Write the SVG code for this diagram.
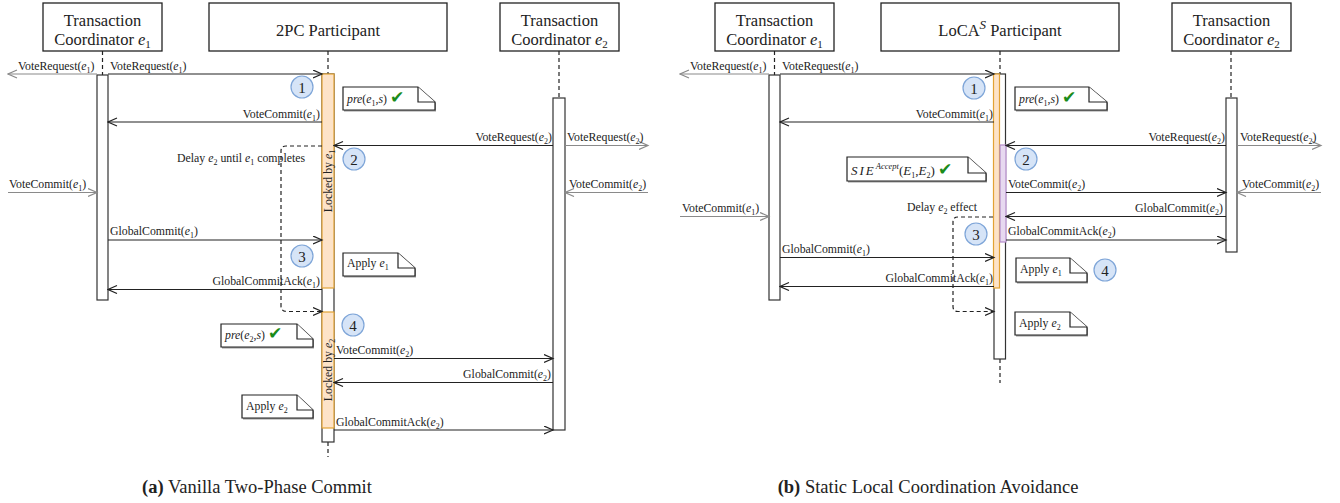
<svg xmlns="http://www.w3.org/2000/svg" width="1340" height="503" viewBox="0 0 1340 503">
<style>
text{font-family:"Liberation Serif","Times New Roman",serif;fill:#222}
.hd{font-size:16.5px}
.lbl{font-size:11.8px}
.i{font-style:italic}
.sub{font-size:8px}
.hsub{font-size:11px}
.box{fill:#fff;stroke:#222;stroke-width:1.3}
.life{stroke:#222;stroke-width:1.2;stroke-dasharray:4 3;fill:none}
.act{fill:#fff;stroke:#333;stroke-width:1.2}
.lock{fill:#fde3c8;stroke:#e2a234;stroke-width:1.2}
.sie{fill:#e7d9f0;stroke:#b38bc9;stroke-width:1.2}
.msg{stroke:#222;stroke-width:1.2;fill:none;marker-end:url(#ah)}
.ext{stroke:#8a8a8a;stroke-width:1.2;fill:none;marker-end:url(#ahg)}
.delay{stroke:#222;stroke-width:1.2;fill:none;stroke-dasharray:4 3;marker-end:url(#ah)}
.num circle{fill:#d6e4f7;stroke:#7ea5d8;stroke-width:1.2}
.num text{font-size:15px;text-anchor:middle}
.note path{fill:#fff;stroke:#222;stroke-width:1.2}
.note .sh{fill:#999;stroke:none}
.ck{font-family:"DejaVu Sans",sans-serif;fill:#1a8c1a;font-size:17px}
.cap{font-size:18.5px;text-anchor:middle}
</style>
<defs>
<marker id="ah" markerWidth="11" markerHeight="11" refX="9.5" refY="4.5" orient="auto" markerUnits="userSpaceOnUse"><path d="M0.5,0.5 L9.5,4.5 L0.5,8.5" fill="none" stroke="#222" stroke-width="1.2"/></marker>
<marker id="ahg" markerWidth="11" markerHeight="11" refX="9.5" refY="4.5" orient="auto" markerUnits="userSpaceOnUse"><path d="M0.5,0.5 L9.5,4.5 L0.5,8.5" fill="none" stroke="#8a8a8a" stroke-width="1.2"/></marker>
</defs>
<rect width="1340" height="503" fill="#fff"/>

<!-- ================= Panel (a) ================= -->
<g id="a-tc1">
<rect class="box" x="43" y="3" width="119" height="48"/>
<text class="hd" x="102.5" y="26" text-anchor="middle">Transaction</text>
<text class="hd" x="102.5" y="45" text-anchor="middle">Coordinator <tspan class="i">e</tspan><tspan class="hsub" dy="3">1</tspan></text>
<line class="life" x1="102.5" y1="51" x2="102.5" y2="75"/>
<rect class="act" x="97" y="75" width="11" height="225"/>
</g>
<g id="a-part">
<rect class="box" x="209" y="3" width="238" height="48"/>
<text class="hd" x="328" y="36" text-anchor="middle">2PC Participant</text>
<line class="life" x1="328" y1="51" x2="328" y2="74"/>
<line class="life" x1="328" y1="442" x2="328" y2="457"/>
<rect class="act" x="322" y="74" width="12" height="368"/>
<rect class="lock" x="322" y="74" width="12" height="214"/>
<rect class="lock" x="322" y="312" width="12" height="116"/>
<text class="lbl" transform="translate(331.5,181) rotate(-90)" text-anchor="middle">Locked by <tspan class="i">e</tspan><tspan class="sub" dy="3">1</tspan></text>
<text class="lbl" transform="translate(331.5,370) rotate(-90)" text-anchor="middle">Locked by <tspan class="i">e</tspan><tspan class="sub" dy="3">2</tspan></text>
</g>
<g id="a-tc2">
<rect class="box" x="500" y="3" width="119" height="48"/>
<text class="hd" x="559.5" y="26" text-anchor="middle">Transaction</text>
<text class="hd" x="559.5" y="45" text-anchor="middle">Coordinator <tspan class="i">e</tspan><tspan class="hsub" dy="3">2</tspan></text>
<line class="life" x1="559" y1="51" x2="559" y2="98"/>
<rect class="act" x="553" y="98" width="12" height="332"/>
</g>

<g id="a-notes">
<g class="note"><path class="sh" d="M344,88 H419 L436,103 V111.5 H344 Z"/><path d="M343,87 H418 L435,102 V110 H343 Z"/><path d="M418,87 V102 H435"/>
<text class="lbl" x="347" y="103"><tspan class="i">pre</tspan>(<tspan class="i">e</tspan><tspan class="sub" dy="3">1</tspan><tspan dy="-3">,</tspan><tspan class="i">s</tspan>) <tspan class="ck">✔</tspan></text></g>
<g class="note"><path class="sh" d="M344,254 H399 L416,269 V277.5 H344 Z"/><path d="M343,253 H398 L415,268 V276 H343 Z"/><path d="M398,253 V268 H415"/>
<text class="lbl" x="347" y="267">Apply <tspan class="i">e</tspan><tspan class="sub" dy="3">1</tspan></text></g>
<g class="note"><path class="sh" d="M222,325 H298 L314,340 V348.5 H222 Z"/><path d="M221,324 H297 L313,339 V347 H221 Z"/><path d="M297,324 V339 H313"/>
<text class="lbl" x="225" y="339"><tspan class="i">pre</tspan>(<tspan class="i">e</tspan><tspan class="sub" dy="3">2</tspan><tspan dy="-3">,</tspan><tspan class="i">s</tspan>) <tspan class="ck">✔</tspan></text></g>
<g class="note"><path class="sh" d="M243,396 H298 L314,411 V419.5 H243 Z"/><path d="M242,395 H297 L313,410 V418 H242 Z"/><path d="M297,395 V410 H313"/>
<text class="lbl" x="246" y="410">Apply <tspan class="i">e</tspan><tspan class="sub" dy="3">2</tspan></text></g>
</g>

<g id="a-steps">
<g class="num"><circle cx="302" cy="87" r="11"/><text x="302" y="92.5">1</text></g>
<g class="num"><circle cx="354" cy="159" r="11"/><text x="354" y="164.5">2</text></g>
<g class="num"><circle cx="302" cy="256" r="11"/><text x="302" y="261.5">3</text></g>
<g class="num"><circle cx="353" cy="325" r="11"/><text x="353" y="330.5">4</text></g>
</g>

<g id="a-connectors">
<line class="ext" x1="97" y1="74" x2="8" y2="74"/>
<line class="msg" x1="108" y1="74" x2="322" y2="74"/>
<line class="msg" x1="322" y1="122" x2="108" y2="122"/>
<line class="msg" x1="553" y1="145.5" x2="334" y2="145.5"/>
<line class="ext" x1="565" y1="145.5" x2="648" y2="145.5"/>
<line class="ext" x1="8" y1="192.5" x2="97" y2="192.5"/>
<line class="ext" x1="648" y1="192.5" x2="565" y2="192.5"/>
<line class="msg" x1="108" y1="240" x2="322" y2="240"/>
<line class="msg" x1="322" y1="289.5" x2="108" y2="289.5"/>
<line class="msg" x1="334" y1="358.5" x2="553" y2="358.5"/>
<line class="msg" x1="553" y1="382.5" x2="334" y2="382.5"/>
<line class="msg" x1="334" y1="430" x2="553" y2="430"/>
<path class="delay" d="M322,146 H286 Q281,146 281,151 V306 Q281,311.5 287,311.5 H322"/>
</g>

<g id="a-labels">
<text class="lbl" x="18" y="70">VoteRequest(<tspan class="i">e</tspan><tspan class="sub" dy="3">1</tspan><tspan dy="-3">)</tspan></text>
<text class="lbl" x="110" y="70">VoteRequest(<tspan class="i">e</tspan><tspan class="sub" dy="3">1</tspan><tspan dy="-3">)</tspan></text>
<text class="lbl" x="320" y="117.5" text-anchor="end">VoteCommit(<tspan class="i">e</tspan><tspan class="sub" dy="3">1</tspan><tspan dy="-3">)</tspan></text>
<text class="lbl" x="552" y="140.5" text-anchor="end">VoteRequest(<tspan class="i">e</tspan><tspan class="sub" dy="3">2</tspan><tspan dy="-3">)</tspan></text>
<text class="lbl" x="567" y="140.5">VoteRequest(<tspan class="i">e</tspan><tspan class="sub" dy="3">2</tspan><tspan dy="-3">)</tspan></text>
<text class="lbl" x="305" y="162" text-anchor="end">Delay <tspan class="i">e</tspan><tspan class="sub" dy="3">2</tspan><tspan dy="-3"> until </tspan><tspan class="i">e</tspan><tspan class="sub" dy="3">1</tspan><tspan dy="-3"> completes</tspan></text>
<text class="lbl" x="9" y="188">VoteCommit(<tspan class="i">e</tspan><tspan class="sub" dy="3">1</tspan><tspan dy="-3">)</tspan></text>
<text class="lbl" x="569" y="188">VoteCommit(<tspan class="i">e</tspan><tspan class="sub" dy="3">2</tspan><tspan dy="-3">)</tspan></text>
<text class="lbl" x="110" y="235">GlobalCommit(<tspan class="i">e</tspan><tspan class="sub" dy="3">1</tspan><tspan dy="-3">)</tspan></text>
<text class="lbl" x="320" y="284.5" text-anchor="end">GlobalCommitAck(<tspan class="i">e</tspan><tspan class="sub" dy="3">1</tspan><tspan dy="-3">)</tspan></text>
<text class="lbl" x="336" y="354">VoteCommit(<tspan class="i">e</tspan><tspan class="sub" dy="3">2</tspan><tspan dy="-3">)</tspan></text>
<text class="lbl" x="551" y="378" text-anchor="end">GlobalCommit(<tspan class="i">e</tspan><tspan class="sub" dy="3">2</tspan><tspan dy="-3">)</tspan></text>
<text class="lbl" x="336" y="425.5">GlobalCommitAck(<tspan class="i">e</tspan><tspan class="sub" dy="3">2</tspan><tspan dy="-3">)</tspan></text>
</g>

<text class="cap" x="257" y="493"><tspan font-weight="bold">(a)</tspan> Vanilla Two-Phase Commit</text>

<!-- ================= Panel (b) ================= -->
<g id="b-tc1">
<rect class="box" x="715" y="3" width="119" height="48"/>
<text class="hd" x="774.5" y="26" text-anchor="middle">Transaction</text>
<text class="hd" x="774.5" y="45" text-anchor="middle">Coordinator <tspan class="i">e</tspan><tspan class="hsub" dy="3">1</tspan></text>
<line class="life" x1="774.5" y1="51" x2="774.5" y2="75"/>
<rect class="act" x="769" y="75" width="11" height="225"/>
</g>
<g id="b-part">
<rect class="box" x="881" y="3" width="238" height="48"/>
<text class="hd" x="1000" y="36" text-anchor="middle">LoCA<tspan class="i" font-size="13px" dy="-7">S</tspan><tspan dy="7"> Participant</tspan></text>
<line class="life" x1="1000" y1="51" x2="1000" y2="74"/>
<line class="life" x1="1000" y1="359" x2="1000" y2="383"/>
<rect class="act" x="994" y="74" width="11.5" height="285"/>
<rect class="lock" x="993.5" y="74" width="6" height="214"/>
<rect class="sie" x="1000" y="145" width="6" height="97"/>
</g>
<g id="b-tc2">
<rect class="box" x="1172" y="3" width="119" height="48"/>
<text class="hd" x="1231.5" y="26" text-anchor="middle">Transaction</text>
<text class="hd" x="1231.5" y="45" text-anchor="middle">Coordinator <tspan class="i">e</tspan><tspan class="hsub" dy="3">2</tspan></text>
<line class="life" x1="1231" y1="51" x2="1231" y2="98"/>
<rect class="act" x="1226" y="98" width="11" height="154"/>
</g>

<g id="b-notes">
<g class="note"><path class="sh" d="M1016,88 H1090 L1108,103 V111.5 H1016 Z"/><path d="M1015,87 H1089 L1107,102 V110 H1015 Z"/><path d="M1089,87 V102 H1107"/>
<text class="lbl" x="1019" y="103"><tspan class="i">pre</tspan>(<tspan class="i">e</tspan><tspan class="sub" dy="3">1</tspan><tspan dy="-3">,</tspan><tspan class="i">s</tspan>) <tspan class="ck">✔</tspan></text></g>
<g class="note"><path class="sh" d="M848,158 H969 L987,174 V182.5 H848 Z"/><path d="M847,157 H968 L986,173 V181 H847 Z"/><path d="M968,157 V173 H986"/>
<text x="851" y="175" font-size="13px"><tspan class="i" letter-spacing="2">SIE</tspan><tspan class="i" font-size="8.5px" dy="-6">Accept</tspan><tspan dy="6">(</tspan><tspan class="i">E</tspan><tspan class="sub" dy="3">1</tspan><tspan dy="-3">,</tspan><tspan class="i">E</tspan><tspan class="sub" dy="3">2</tspan><tspan dy="-3">) </tspan><tspan class="ck" font-size="18px">✔</tspan></text></g>
<g class="note"><path class="sh" d="M1017,259 H1071 L1088,274 V283.5 H1017 Z"/><path d="M1016,258 H1070 L1087,273 V282 H1016 Z"/><path d="M1070,258 V273 H1087"/>
<text class="lbl" x="1020" y="272.5">Apply <tspan class="i">e</tspan><tspan class="sub" dy="3">1</tspan></text></g>
<g class="note"><path class="sh" d="M1016,313 H1071 L1088,328 V336.5 H1016 Z"/><path d="M1015,312 H1070 L1087,327 V335 H1015 Z"/><path d="M1070,312 V327 H1087"/>
<text class="lbl" x="1019" y="327">Apply <tspan class="i">e</tspan><tspan class="sub" dy="3">2</tspan></text></g>
</g>

<g id="b-steps">
<g class="num"><circle cx="974" cy="88" r="11"/><text x="974" y="93.5">1</text></g>
<g class="num"><circle cx="1026" cy="159" r="11"/><text x="1026" y="164.5">2</text></g>
<g class="num"><circle cx="976" cy="234" r="11"/><text x="976" y="239.5">3</text></g>
<g class="num"><circle cx="1105" cy="270" r="11"/><text x="1105" y="275.5">4</text></g>
</g>

<g id="b-connectors">
<line class="ext" x1="769" y1="74" x2="680" y2="74"/>
<line class="msg" x1="780" y1="74" x2="994" y2="74"/>
<line class="msg" x1="994" y1="122" x2="780" y2="122"/>
<line class="msg" x1="1226" y1="145.5" x2="1006" y2="145.5"/>
<line class="ext" x1="1237" y1="145.5" x2="1321" y2="145.5"/>
<line class="msg" x1="1006" y1="192.5" x2="1226" y2="192.5"/>
<line class="ext" x1="1321" y1="192.5" x2="1237" y2="192.5"/>
<line class="ext" x1="680" y1="216.5" x2="769" y2="216.5"/>
<line class="msg" x1="1226" y1="216.5" x2="1006" y2="216.5"/>
<line class="msg" x1="1006" y1="240" x2="1226" y2="240"/>
<line class="msg" x1="780" y1="257.5" x2="994" y2="257.5"/>
<line class="msg" x1="994" y1="286.5" x2="780" y2="286.5"/>
<path class="delay" d="M993,217 H958 Q953,217 953,222 V306.5 Q953,311.5 958,311.5 H994"/>
</g>

<g id="b-labels">
<text class="lbl" x="690" y="70">VoteRequest(<tspan class="i">e</tspan><tspan class="sub" dy="3">1</tspan><tspan dy="-3">)</tspan></text>
<text class="lbl" x="782" y="70">VoteRequest(<tspan class="i">e</tspan><tspan class="sub" dy="3">1</tspan><tspan dy="-3">)</tspan></text>
<text class="lbl" x="993" y="117.5" text-anchor="end">VoteCommit(<tspan class="i">e</tspan><tspan class="sub" dy="3">1</tspan><tspan dy="-3">)</tspan></text>
<text class="lbl" x="1225" y="140.5" text-anchor="end">VoteRequest(<tspan class="i">e</tspan><tspan class="sub" dy="3">2</tspan><tspan dy="-3">)</tspan></text>
<text class="lbl" x="1240" y="140.5">VoteRequest(<tspan class="i">e</tspan><tspan class="sub" dy="3">2</tspan><tspan dy="-3">)</tspan></text>
<text class="lbl" x="1008" y="188">VoteCommit(<tspan class="i">e</tspan><tspan class="sub" dy="3">2</tspan><tspan dy="-3">)</tspan></text>
<text class="lbl" x="1242" y="188">VoteCommit(<tspan class="i">e</tspan><tspan class="sub" dy="3">2</tspan><tspan dy="-3">)</tspan></text>
<text class="lbl" x="682" y="212">VoteCommit(<tspan class="i">e</tspan><tspan class="sub" dy="3">1</tspan><tspan dy="-3">)</tspan></text>
<text class="lbl" x="977" y="211" text-anchor="end">Delay <tspan class="i">e</tspan><tspan class="sub" dy="3">2</tspan><tspan dy="-3"> effect</tspan></text>
<text class="lbl" x="1223" y="212" text-anchor="end">GlobalCommit(<tspan class="i">e</tspan><tspan class="sub" dy="3">2</tspan><tspan dy="-3">)</tspan></text>
<text class="lbl" x="1008" y="235">GlobalCommitAck(<tspan class="i">e</tspan><tspan class="sub" dy="3">2</tspan><tspan dy="-3">)</tspan></text>
<text class="lbl" x="782" y="252.5">GlobalCommit(<tspan class="i">e</tspan><tspan class="sub" dy="3">1</tspan><tspan dy="-3">)</tspan></text>
<text class="lbl" x="993" y="282" text-anchor="end">GlobalCommitAck(<tspan class="i">e</tspan><tspan class="sub" dy="3">1</tspan><tspan dy="-3">)</tspan></text>
</g>

<text class="cap" x="928" y="493"><tspan font-weight="bold">(b)</tspan> Static Local Coordination Avoidance</text>
</svg>
